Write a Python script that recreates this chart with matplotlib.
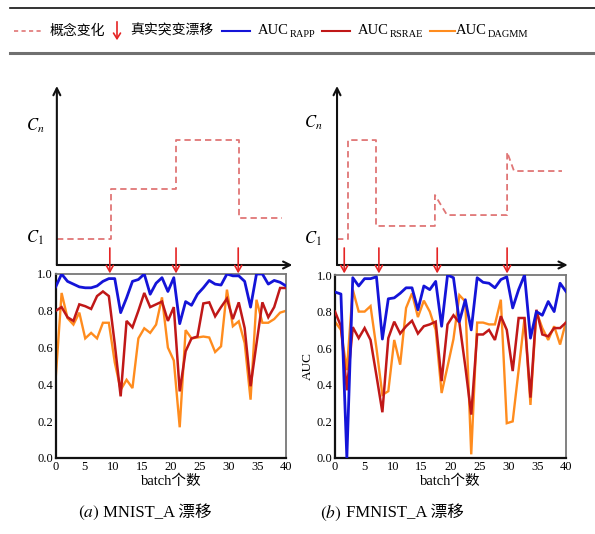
import numpy as np
import matplotlib
matplotlib.use("Agg")
import matplotlib.pyplot as plt
from matplotlib.lines import Line2D

plt.rcParams['font.family'] = ['Liberation Serif', 'Noto Sans CJK SC']
plt.rcParams['mathtext.fontset'] = 'stix'

# ---------------- data ----------------
n_points = 40
x_max = 40
xticks = [0, 5, 10, 15, 20, 25, 30, 35, 40]
yticks = [0.0, 0.2, 0.4, 0.6, 0.8, 1.0]

mnist_rapp = [0.93, 1.00, 0.96, 0.945, 0.93, 0.925, 0.925, 0.935, 0.96, 0.975,
              0.975, 0.79, 0.87, 0.96, 0.97, 1.00, 0.89, 0.95, 0.98, 0.905,
              0.98, 0.73, 0.85, 0.83, 0.89, 0.925, 0.965, 0.945, 0.94, 1.00,
              0.99, 0.99, 0.96, 0.82, 1.00, 1.00, 0.945, 0.965, 0.955, 0.935]
mnist_rsrae = [0.80, 0.82, 0.765, 0.745, 0.835, 0.825, 0.81, 0.88, 0.905, 0.88,
               0.62, 0.335, 0.745, 0.71, 0.80, 0.897, 0.82, 0.835, 0.85, 0.745,
               0.82, 0.362, 0.58, 0.65, 0.66, 0.84, 0.846, 0.77, 0.82, 0.866,
               0.755, 0.846, 0.706, 0.39, 0.62, 0.846, 0.765, 0.82, 0.924, 0.924]
mnist_dagmm = [0.435, 0.897, 0.76, 0.725, 0.79, 0.65, 0.68, 0.65, 0.735, 0.735,
               0.52, 0.37, 0.425, 0.38, 0.65, 0.705, 0.68, 0.725, 0.873, 0.60,
               0.53, 0.167, 0.695, 0.65, 0.655, 0.66, 0.655, 0.576, 0.607, 0.915,
               0.716, 0.743, 0.625, 0.317, 0.86, 0.735, 0.735, 0.755, 0.79, 0.80]

fmnist_rapp = [0.907, 0.896, 0.0, 0.985, 0.94, 0.98, 0.98, 0.99, 0.65, 0.87,
               0.875, 0.90, 0.93, 0.93, 0.81, 0.94, 0.92, 0.965, 0.72, 1.00,
               0.985, 0.745, 0.865, 0.70, 0.985, 0.96, 0.955, 0.93, 0.975, 0.99,
               0.82, 0.92, 1.00, 0.655, 0.80, 0.78, 0.855, 0.80, 0.955, 0.91]
fmnist_rsrae = [0.80, 0.72, 0.37, 0.715, 0.655, 0.71, 0.645, 0.45, 0.25, 0.655,
                0.745, 0.68, 0.72, 0.75, 0.68, 0.72, 0.73, 0.745, 0.42, 0.73,
                0.78, 0.74, 0.50, 0.237, 0.675, 0.675, 0.70, 0.645, 0.775, 0.70,
                0.475, 0.765, 0.765, 0.33, 0.81, 0.675, 0.665, 0.71, 0.71, 0.74]
fmnist_dagmm = [0.745, 0.70, 0.48, 0.92, 0.80, 0.80, 0.83, 0.60, 0.345, 0.365,
                0.645, 0.51, 0.82, 0.90, 0.77, 0.86, 0.80, 0.70, 0.355, 0.50,
                0.65, 0.89, 0.855, 0.02, 0.74, 0.74, 0.73, 0.73, 0.865, 0.19,
                0.20, 0.48, 0.765, 0.29, 0.80, 0.71, 0.645, 0.72, 0.62, 0.745]

# concept level diagrams (x in batch units, level in relative height 0..1)
mnist_concept_x = [0.2, 9.6, 9.6, 20.9, 20.9, 31.8, 31.8, 39.3]
mnist_concept_y = [0.145, 0.145, 0.425, 0.425, 0.698, 0.698, 0.263, 0.263]
fmnist_concept_x = [0.35, 2.25, 2.25, 7.1, 7.1, 17.3, 17.3, 19.4, 29.8, 29.8, 31.0, 39.3]
fmnist_concept_y = [0.145, 0.145, 0.698, 0.698, 0.218, 0.218, 0.391, 0.279, 0.279, 0.631, 0.525, 0.525]
mnist_drifts = [9.4, 20.9, 31.7]
fmnist_drifts = [1.6, 7.6, 17.7, 29.8]

legend_labels = ['概念变化', '真实突变漂移']
auc_names = ['RAPP', 'RSRAE', 'DAGMM']
captions = [('a', 'MNIST_A 漂移'), ('b', 'FMNIST_A 漂移')]
xlabel = 'batch个数'
ylabel = 'AUC'

# ---------------- style ----------------
C_BLUE = '#1414d8'
C_RED = '#c01818'
C_ORANGE = '#ff8c1e'
C_CONCEPT = '#e07676'
C_ARROW = '#e52424'

W, H = 595, 534
fig = plt.figure(figsize=(W / 100, H / 100), dpi=100)


def fx(px):
    return px / W


def fy(py):
    return 1 - py / H


def draw_panel(left_px, right_px, top_px, bot_px, rapp, rsrae, dagmm, show_ylabel):
    ax = fig.add_axes([fx(left_px), fy(bot_px), fx(right_px - left_px), (bot_px - top_px) / H])
    xs = np.linspace(0, x_max, n_points)
    ax.plot(xs, dagmm, color=C_ORANGE, lw=1.7, solid_joinstyle='miter', zorder=2)
    ax.plot(xs, rsrae, color=C_RED, lw=1.8, solid_joinstyle='miter', zorder=3)
    ax.plot(xs, rapp, color=C_BLUE, lw=2.0, solid_joinstyle='round', zorder=4)
    ax.set_xlim(0, x_max)
    ax.set_ylim(0, 1)
    ax.set_xticks(xticks)
    ax.set_yticks(yticks)
    ax.set_yticklabels([f'{v:.1f}' for v in yticks])
    ax.tick_params(length=0, labelsize=9, pad=2)
    for s in ['left', 'bottom']:
        ax.spines[s].set_color('#111111')
        ax.spines[s].set_linewidth(1.6)
    for s in ['top', 'right']:
        ax.spines[s].set_color('#777777')
        ax.spines[s].set_linewidth(1.3)
    ax.set_xlabel(xlabel, fontsize=10.5, labelpad=1)
    if show_ylabel:
        ax.set_ylabel(ylabel, fontsize=9.5, labelpad=2)
    return ax


def draw_top(left_px, right_px, axis_x, arrow_end_x, cx, cy, drifts, label_x, cn_y, c1_y):
    ax = fig.add_axes([fx(left_px), fy(265), fx(right_px - left_px), 179 / H])
    ax.set_xlim(0, x_max)
    ax.set_ylim(0, 1)
    ax.axis('off')
    ax.plot(cx, cy, color=C_CONCEPT, lw=1.3, ls=(0, (3.5, 2.2)), clip_on=False)
    ax.annotate('', xy=(axis_x, 1.0), xytext=(axis_x, 0), annotation_clip=False,
                arrowprops=dict(arrowstyle='->,head_length=0.5,head_width=0.25', color='#111111', lw=1.5,
                                shrinkA=0, shrinkB=0))
    ax.annotate('', xy=(arrow_end_x, 0), xytext=(axis_x, 0), annotation_clip=False,
                arrowprops=dict(arrowstyle='->,head_length=0.5,head_width=0.25', color='#111111', lw=1.5,
                                shrinkA=0, shrinkB=0))
    for d in drifts:
        ax.annotate('', xy=(d, -0.047), xytext=(d, 0.095), annotation_clip=False,
                    arrowprops=dict(arrowstyle='->,head_length=0.45,head_width=0.25', color=C_ARROW, lw=1.2,
                                    shrinkA=0, shrinkB=0), zorder=6)
    ax.text(label_x, cn_y, r'$C_n$', fontsize=12, ha='center', va='center')
    ax.text(label_x, c1_y, r'$C_1$', fontsize=12, ha='center', va='center')
    return ax


draw_top(55.7, 286, 0.2, 41.1, mnist_concept_x, mnist_concept_y, mnist_drifts, -3.6, 0.777, 0.151)
draw_top(335, 566, 0.35, 40.3, fmnist_concept_x, fmnist_concept_y, fmnist_drifts, -3.8, 0.793, 0.145)
draw_panel(55.7, 286, 274, 458, mnist_rapp, mnist_rsrae, mnist_dagmm, False)
draw_panel(335, 566, 275, 458, fmnist_rapp, fmnist_rsrae, fmnist_dagmm, True)

# ---------------- legend band ----------------
fig.add_artist(Line2D([fx(10), 1.0], [fy(8), fy(8)], color='#111111', lw=1.2))
fig.add_artist(Line2D([fx(10), 1.0], [fy(53), fy(53)], color='#707070', lw=2.2))
ly = fy(31)
fig.add_artist(Line2D([fx(14), fx(42)], [ly, ly], color=C_CONCEPT, lw=1.2, ls=(0, (2.5, 2))))
fig.text(fx(50), ly, legend_labels[0], fontsize=10, va='center', ha='left')
fig.add_artist(matplotlib.patches.FancyArrowPatch((fx(117), fy(19)), (fx(117), fy(43)),
                                                  transform=fig.transFigure,
                                                  arrowstyle='->,head_length=4,head_width=2.5',
                                                  color=C_ARROW, lw=1.2))
fig.text(fx(130), ly, legend_labels[1], fontsize=10, va='center', ha='left')

series_colors = [C_BLUE, C_RED, C_ORANGE]
line_px = [(222, 250), (322, 350), (430, 455)]
text_px = [258, 358, 456]
fig.canvas.draw()
renderer = fig.canvas.get_renderer()
for name, col, (a, b), tx in zip(auc_names, series_colors, line_px, text_px):
    fig.add_artist(Line2D([fx(a), fx(b)], [ly, ly], color=col, lw=1.5))
    t = fig.text(fx(tx), ly, 'AUC', fontsize=10.5, va='center', ha='left')
    bb = t.get_window_extent(renderer)
    fig.text(bb.x1 / W + 0.001, ly - 0.006, name, fontsize=7.5, va='center', ha='left')

# ---------------- captions ----------------
cap_y = fy(513)
for (letter, rest), cx in zip(captions, [145, 392]):
    t1 = fig.text(0, cap_y, rf'$({letter})$', fontsize=12.5, ha='left', va='center')
    t2 = fig.text(0, cap_y, ' ' + rest, fontsize=12, ha='left', va='center')
    w1 = t1.get_window_extent(renderer).width
    w2 = t2.get_window_extent(renderer).width
    start = cx - (w1 + w2) / 2
    t1.set_x(fx(start))
    t2.set_x(fx(start + w1))

fig.savefig('out.png', dpi=100)
